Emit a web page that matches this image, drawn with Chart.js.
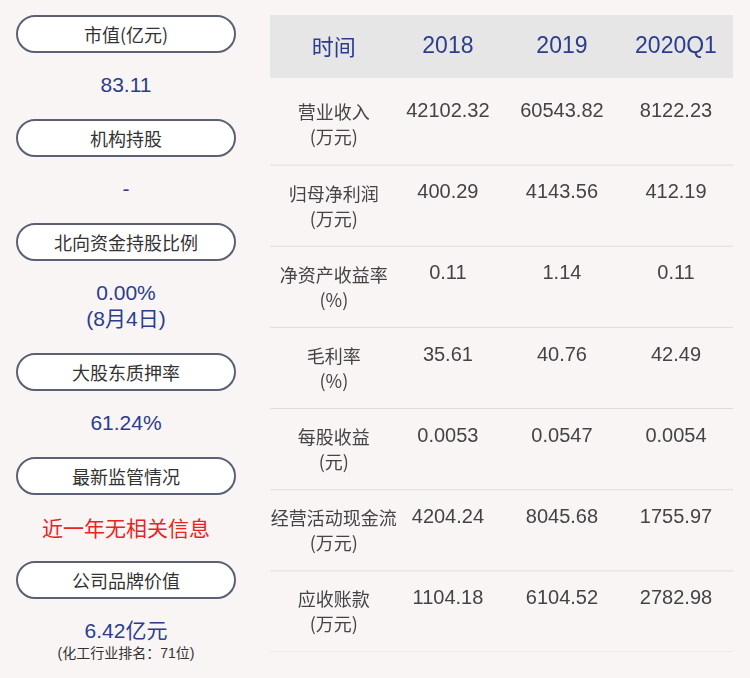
<!DOCTYPE html>
<html><head><meta charset="utf-8">
<script src="https://cdn.jsdelivr.net/npm/chart.js@4/dist/chart.umd.min.js"></script>
<style>
body{margin:0;background:#f9f5f5;font-family:"Liberation Sans","Noto Sans CJK SC",sans-serif;width:750px;height:678px;position:relative;overflow:hidden}
.pill{position:absolute;left:16px;width:216px;height:34px;border:2px solid #5b6172;border-radius:19px;text-align:center;line-height:34px;font-size:18px;color:#333;background:#fff;font-family:"Noto Sans CJK SC",sans-serif}
.val{position:absolute;left:16px;width:220px;text-align:center;font-size:21px;color:#2b3d8c;line-height:26px}
#wrap{position:absolute;left:270px;top:15px;width:463px;height:637px}
</style></head><body>
<div class="pill" style="top:15px">市值(亿元)</div>
<div class="val" style="top:72px">83.11</div>
<div class="pill" style="top:119px">机构持股</div>
<div class="val" style="top:176px">-</div>
<div class="pill" style="top:223px">北向资金持股比例</div>
<div class="val" style="top:280px">0.00%<br>(8月4日)</div>
<div class="pill" style="top:353px">大股东质押率</div>
<div class="val" style="top:410px">61.24%</div>
<div class="pill" style="top:457px">最新监管情况</div>
<div class="val" style="top:514px;color:#e8241f;font-family:'Noto Sans CJK SC'">近一年无相关信息</div>
<div class="pill" style="top:561px">公司品牌价值</div>
<div class="val" style="top:618px">6.42亿元</div>
<div class="val" style="top:644px;font-size:14px;color:#333;line-height:18px">(化工行业排名：71位)</div>
<div id="wrap"><canvas id="c"></canvas></div>
<script>
const columns=['时间','2018','2019','2020Q1'];
const rowLabels=[['营业收入','(万元)'],['归母净利润','(万元)'],['净资产收益率','(%)'],['毛利率','(%)'],['每股收益','(元)'],['经营活动现金流','(万元)'],['应收账款','(万元)']];
const v2018=['42102.32','400.29','0.11','35.61','0.0053','4204.24','1104.18'];
const v2019=['60543.82','4143.56','1.14','40.76','0.0547','8045.68','6104.52'];
const v2020=['8122.23','412.19','0.11','42.49','0.0054','1755.97','2782.98'];
const tablePlugin={id:'table',beforeDatasetsDraw(ch){
 const c=ch.ctx,x=ch.scales.x,y=ch.scales.y;
 const step=y.getPixelForValue(1)-y.getPixelForValue(0);
 const hTop=ch.chartArea.top, hBot=y.getPixelForValue(0.5)-6;
 c.save();
 c.fillStyle='#e6e6e6';c.fillRect(ch.chartArea.left,hTop,ch.chartArea.right-ch.chartArea.left,hBot-hTop);
 c.textAlign='center';c.textBaseline='middle';
 c.fillStyle='#2b3d8c';
 columns.forEach((t,i)=>{c.font=i?'23px "Liberation Sans"':'22px "Noto Sans CJK SC"';c.fillText(t,x.getPixelForValue(i),(hTop+hBot)/2);});
 c.strokeStyle='#dddddd';c.lineWidth=1;
 for(let r=0;r<rowLabels.length;r++){
  const cy=y.getPixelForValue(r+1);
  c.beginPath();c.moveTo(ch.chartArea.left,cy+step/2);c.lineTo(ch.chartArea.right,cy+step/2);c.stroke();
  c.fillStyle='#444';c.font='18px "Noto Sans CJK SC"';
  c.fillText(rowLabels[r][0],x.getPixelForValue(0),cy-12);
  c.fillText(rowLabels[r][1],x.getPixelForValue(0),cy+13);
  c.font='20px "Liberation Sans"';
  [v2018,v2019,v2020].forEach((a,i)=>c.fillText(a[r],x.getPixelForValue(i+1),cy-13));
 }
 c.restore();}};
new Chart(document.getElementById('c'),{type:'scatter',
 data:{datasets:[{data:[],pointRadius:0}]},
 options:{responsive:true,maintainAspectRatio:false,animation:false,
 layout:{padding:0},
 plugins:{legend:{display:false},tooltip:{enabled:false}},
 scales:{x:{type:'linear',min:-0.56,max:3.5,display:false},
 y:{type:'linear',min:-0.35,max:7.5,reverse:true,display:false}}},
 plugins:[tablePlugin]});
</script></body></html>
